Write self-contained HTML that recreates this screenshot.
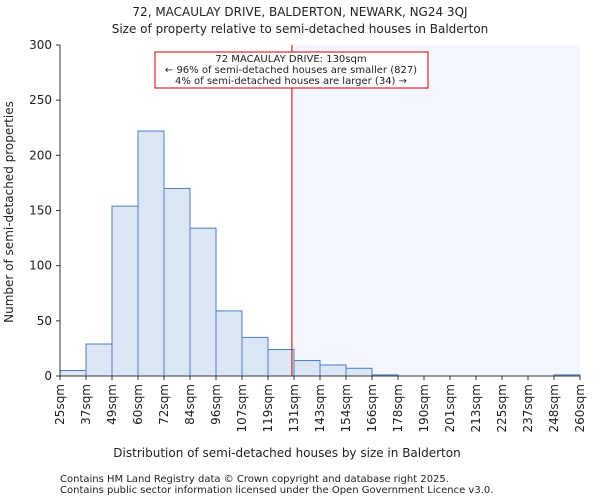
<!DOCTYPE html>
<html><head><meta charset="utf-8"><style>
body{margin:0;background:#fff;font-family:"DejaVu Sans","Liberation Sans",sans-serif;}
svg text{font-family:"DejaVu Sans","Liberation Sans",sans-serif;fill:#222;}
</style></head><body>
<svg id="chart" width="600" height="500">
<text x="300" y="16" font-size="12" text-anchor="middle">72, MACAULAY DRIVE, BALDERTON, NEWARK, NG24 3QJ</text>
<text x="300" y="33" font-size="12" text-anchor="middle">Size of property relative to semi-detached houses in Balderton</text>
<g id="plot"></g>
<text x="287" y="457" font-size="12" text-anchor="middle">Distribution of semi-detached houses by size in Balderton</text>
<text transform="translate(13,212) rotate(-90)" font-size="12" text-anchor="middle">Number of semi-detached properties</text>
<text x="60" y="482" font-size="10" fill="#444">Contains HM Land Registry data © Crown copyright and database right 2025.</text>
<text x="60" y="493" font-size="10" fill="#444">Contains public sector information licensed under the Open Government Licence v3.0.</text>
</svg>
<script>
const edgeLabels=["25sqm","37sqm","49sqm","60sqm","72sqm","84sqm","96sqm","107sqm","119sqm","131sqm","143sqm","154sqm","166sqm","178sqm","190sqm","201sqm","213sqm","225sqm","237sqm","248sqm","260sqm"];
const counts=[5,29,154,222,170,134,59,35,24,14,10,7,1,0,0,0,0,0,0,1];
const yTicks=[0,50,100,150,200,250,300];
const markerIndex=8.92;
const x0=60,x1=580,yTop=45,yBot=376,yMax=300;
const ns="http://www.w3.org/2000/svg";
const g=document.getElementById('plot');
const bw=(x1-x0)/counts.length;
const xs=i=>x0+i*bw;
const ys=v=>yBot-v/yMax*(yBot-yTop);
function mk(t,a){const e=document.createElementNS(ns,t);for(const k in a)e.setAttribute(k,a[k]);g.appendChild(e);return e;}
const sh=mk('rect',{x:xs(markerIndex),y:yTop,width:x1-xs(markerIndex),height:yBot-yTop,fill:'#f3f6fc'});


counts.forEach((c,i)=>{if(c<=0)return;const r=mk('rect',{x:xs(i),y:ys(c),width:bw,height:yBot-ys(c),fill:'#dce6f4',stroke:'#4a7fc8','stroke-width':1});

});
const ax=mk('path',{d:`M${x0},${yTop}V${yBot}H${x1}`,stroke:'#333',fill:'none'});


yTicks.forEach(v=>{mk('line',{x1:x0-4,x2:x0,y1:ys(v),y2:ys(v),stroke:'#333'});
const t=mk('text',{x:x0-8,y:ys(v)+4,'font-size':12,'text-anchor':'end'});t.textContent=v;

});
edgeLabels.forEach((l,i)=>{const x=xs(i);mk('line',{x1:x,x2:x,y1:yBot,y2:yBot+4,stroke:'#333'});
const t=mk('text',{transform:`translate(${x+4},${yBot+8}) rotate(-90)`,'font-size':12,'text-anchor':'end'});t.textContent=l;

});
const ml=mk('line',{x1:xs(markerIndex),x2:xs(markerIndex),y1:yTop,y2:yBot,stroke:'#c00','stroke-width':1});


const bx=mk('rect',{x:155,y:52,width:273,height:36,fill:'#fff',stroke:'#c00'});


["72 MACAULAY DRIVE: 130sqm","← 96% of semi-detached houses are smaller (827)","4% of semi-detached houses are larger (34) →"].forEach((s,i)=>{
const t=mk('text',{x:291,y:62+i*11,'font-size':10,'text-anchor':'middle'});t.textContent=s;

});
</script>
</body></html>
